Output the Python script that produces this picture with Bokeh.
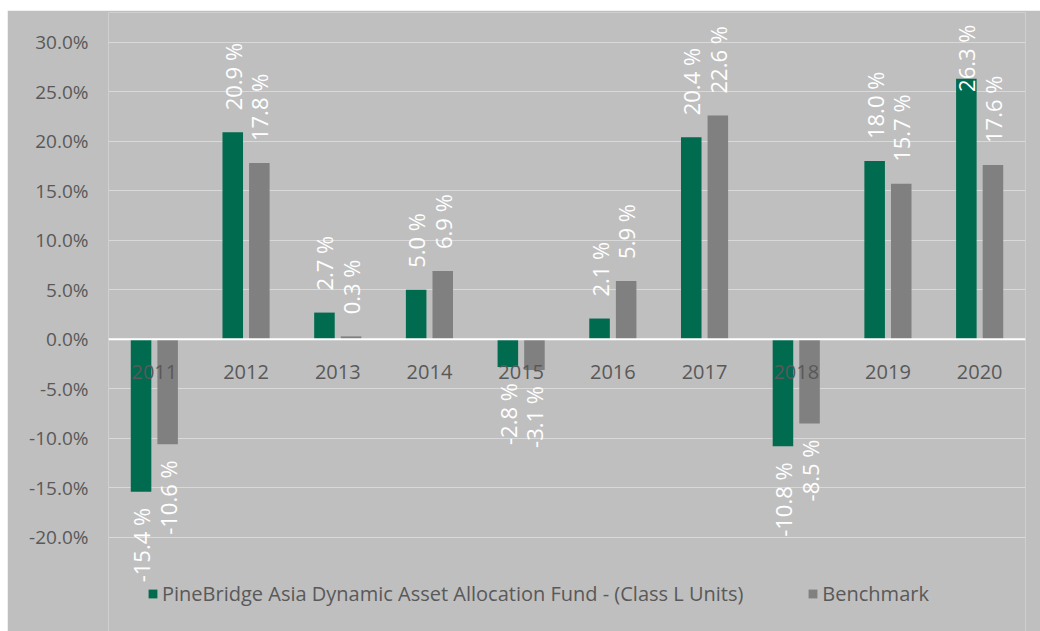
import math
from bokeh.plotting import figure
from bokeh.models import (ColumnDataSource, FactorRange, Range1d, FixedTicker,
                          PrintfTickFormatter, Span, Legend, LegendItem)
from bokeh.transform import dodge
from bokeh.core.properties import value
from bokeh.embed import file_html
from bokeh.resources import INLINE

years = ["2011", "2012", "2013", "2014", "2015", "2016", "2017", "2018", "2019", "2020"]
fund = [-15.4, 20.9, 2.7, 5.0, -2.8, 2.1, 20.4, -10.8, 18.0, 26.3]
bench = [-10.6, 17.8, 0.3, 6.9, -3.1, 5.9, 22.6, -8.5, 15.7, 17.6]
y_ticks = [-20, -15, -10, -5, 0, 5, 10, 15, 20, 25, 30]
fund_name = "PineBridge Asia Dynamic Asset Allocation Fund - (Class L Units)"
bench_name = "Benchmark"

GREEN = "#006b4f"
GREY = "#808080"
BG = "#bfbfbf"
TXT = "#595959"
FONT = "Open Sans"

W, H = 1033, 621
MB_L, MB_R, MB_T, MB_B = 101, 15, 2, 0
Y0, Y1 = -29.5, 33.0
px_per_unit = (H - MB_T - MB_B) / (Y1 - Y0)

p = figure(width=W, height=H, x_range=FactorRange(*years), y_range=Range1d(Y0, Y1),
           output_backend="svg", toolbar_location=None,
           min_border_left=MB_L, min_border_right=MB_R,
           min_border_top=MB_T, min_border_bottom=MB_B)
p.styles = {"margin-left": "7px", "margin-top": "10px"}
p.background_fill_color = BG
p.border_fill_color = BG
p.outline_line_color = None
p.xaxis.visible = False
p.xgrid.grid_line_color = None
p.ygrid.grid_line_color = "#d9d9d9"
p.ygrid.grid_line_width = 1

ya = p.yaxis[0]
ya.ticker = FixedTicker(ticks=y_ticks)
ya.formatter = PrintfTickFormatter(format="%.1f%%")
ya.axis_line_color = None
ya.major_tick_line_color = None
ya.minor_tick_line_color = None
ya.major_tick_out = 0
ya.major_tick_in = 0
ya.major_label_standoff = 20
ya.major_label_text_font = FONT
ya.major_label_text_font_size = "19px"
ya.major_label_text_color = TXT

p.ygrid.ticker = FixedTicker(ticks=y_ticks)

p.add_layout(Span(location=0, dimension="width", line_color="white", line_width=2))

OFF = 0.145
BW = 0.224
LBL_GAP = 22
LBL_LEN = 72

def label_cols(vals):
    ys, aligns, offs = [], [], []
    for v in vals:
        if v >= 0:
            if v + (LBL_GAP + LBL_LEN) / px_per_unit > Y1:
                ys.append(Y1)
                aligns.append("right")
                offs.append(12)
            else:
                ys.append(v)
                aligns.append("left")
                offs.append(-LBL_GAP)
        else:
            ys.append(v)
            aligns.append("right")
            offs.append(16)
    return ys, aligns, offs

fy, fa, fo = label_cols(fund)
by, ba, bo = label_cols(bench)
src = ColumnDataSource(dict(
    year=years, fund=fund, bench=bench,
    fund_lbl=[f"{v:.1f} %" for v in fund], bench_lbl=[f"{v:.1f} %" for v in bench],
    fy=fy, fa=fa, fo=fo, by=by, ba=ba, bo=bo,
))

r1 = p.vbar(x=dodge("year", -OFF, range=p.x_range), top="fund", bottom=0, width=BW,
            source=src, fill_color=GREEN, line_color=None)
r2 = p.vbar(x=dodge("year", OFF, range=p.x_range), top="bench", bottom=0, width=BW,
            source=src, fill_color=GREY, line_color=None)

# category labels near zero line
p.text(x="year", y=0, text="year", source=src, y_offset=33,
       text_align="center", text_baseline="middle", text_color=TXT,
       text_font=value(FONT), text_font_size="20px")

for xcol, ycol, acol, ocol, lcol, off in [("year", "fy", "fa", "fo", "fund_lbl", -OFF),
                                         ("year", "by", "ba", "bo", "bench_lbl", OFF)]:
    p.text(x=dodge(xcol, off, range=p.x_range), y=ycol, text=lcol, source=src,
           angle=math.pi / 2, text_align=acol, y_offset=ocol, text_baseline="middle",
           text_color="white", text_font=value(FONT), text_font_size="22px")

legend = Legend(items=[LegendItem(label=fund_name, renderers=[r1]),
                       LegendItem(label=bench_name, renderers=[r2])],
                orientation="horizontal", location=(39, 24))
legend.background_fill_alpha = 0
legend.border_line_color = None
legend.label_text_font = FONT
legend.label_text_font_size = "20px"
legend.label_text_color = TXT
legend.glyph_width = 11
legend.glyph_height = 11
legend.label_standoff = 4
legend.spacing = 64
legend.padding = 0
legend.margin = 0
p.add_layout(legend)

open("out.html", "w").write(file_html(p, INLINE))
